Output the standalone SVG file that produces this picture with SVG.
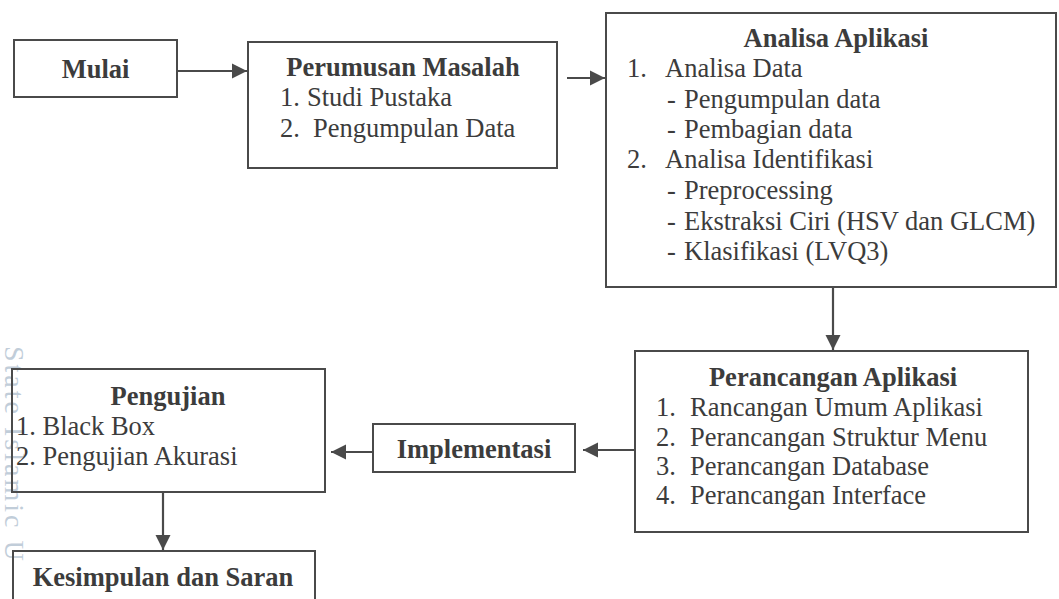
<svg xmlns="http://www.w3.org/2000/svg" width="1059" height="599" viewBox="0 0 1059 599">
<style>
.box{fill:none;stroke:#4a4a4a;stroke-width:2}
.t{font-family:"Liberation Serif","Times New Roman",serif;font-size:26.5px;fill:#3c3c3c}
.b{font-weight:bold}
.c{text-anchor:middle}
.ln{stroke:#4a4a4a;stroke-width:2.2;fill:none}
.wm{font-family:"Liberation Serif",serif;font-size:28px;letter-spacing:3px;fill:#8fa6bb;opacity:0.55}
</style>
<defs>
<marker id="ah" viewBox="0 0 10 10" refX="10" refY="5" markerWidth="7" markerHeight="7" markerUnits="strokeWidth" orient="auto">
<path d="M0,0 L10,5 L0,10 z" fill="#4a4a4a"/>
</marker>
</defs>
<rect width="1059" height="599" fill="#fff"/>
<text class="wm" transform="translate(5,346) rotate(90)">State Islamic U</text>
<g id="connectors">
<line class="ln" x1="177" y1="71" x2="247" y2="71" marker-end="url(#ah)"/>
<line class="ln" x1="567" y1="78" x2="605" y2="78" marker-end="url(#ah)"/>
<line class="ln" x1="833" y1="287" x2="833" y2="350" marker-end="url(#ah)"/>
<line class="ln" x1="635" y1="450" x2="583" y2="450" marker-end="url(#ah)"/>
<line class="ln" x1="373" y1="452" x2="331" y2="452" marker-end="url(#ah)"/>
<line class="ln" x1="163" y1="492" x2="163" y2="550" marker-end="url(#ah)"/>
</g>
<g id="mulai">
<rect class="box" x="14" y="40" width="163" height="57"/>
<text class="t b c" x="95.5" y="78">Mulai</text>
</g>
<g id="perumusan">
<rect class="box" x="248" y="42" width="309" height="126"/>
<text class="t b c" x="403" y="76">Perumusan Masalah</text>
<text class="t" x="280" y="106">1.</text>
<text class="t" x="307" y="106">Studi Pustaka</text>
<text class="t" x="280" y="137">2.</text>
<text class="t" x="313" y="137">Pengumpulan Data</text>
</g>
<g id="analisa">
<rect class="box" x="606" y="13" width="450" height="274"/>
<text class="t b c" x="836" y="47">Analisa Aplikasi</text>
<text class="t" x="627" y="77">1.</text>
<text class="t" x="665" y="77">Analisa Data</text>
<text class="t" x="667" y="108">-</text>
<text class="t" x="684" y="108">Pengumpulan data</text>
<text class="t" x="667" y="138">-</text>
<text class="t" x="684" y="138">Pembagian data</text>
<text class="t" x="627" y="168">2.</text>
<text class="t" x="665" y="168">Analisa Identifikasi</text>
<text class="t" x="667" y="199">-</text>
<text class="t" x="684" y="199">Preprocessing</text>
<text class="t" x="667" y="230">-</text>
<text class="t" x="684" y="230">Ekstraksi Ciri (HSV dan GLCM)</text>
<text class="t" x="667" y="260">-</text>
<text class="t" x="684" y="260">Klasifikasi (LVQ3)</text>
</g>
<g id="perancangan">
<rect class="box" x="635" y="351" width="393" height="181"/>
<text class="t b c" x="833" y="386">Perancangan Aplikasi</text>
<text class="t" x="656" y="416">1.</text>
<text class="t" x="690" y="416">Rancangan Umum Aplikasi</text>
<text class="t" x="656" y="446">2.</text>
<text class="t" x="690" y="446">Perancangan Struktur Menu</text>
<text class="t" x="656" y="475">3.</text>
<text class="t" x="690" y="475">Perancangan Database</text>
<text class="t" x="656" y="504">4.</text>
<text class="t" x="690" y="504">Perancangan Interface</text>
</g>
<g id="implementasi">
<rect class="box" x="373" y="424" width="202" height="48"/>
<text class="t b c" x="474" y="458">Implementasi</text>
</g>
<g id="pengujian">
<rect class="box" x="12" y="369" width="313" height="123"/>
<text class="t b c" x="168" y="405">Pengujian</text>
<text class="t" x="16" y="435">1. Black Box</text>
<text class="t" x="16" y="465">2. Pengujian Akurasi</text>
</g>
<g id="kesimpulan">
<rect class="box" x="13" y="551" width="302" height="60"/>
<text class="t b c" x="163" y="586">Kesimpulan dan Saran</text>
</g>
</svg>
